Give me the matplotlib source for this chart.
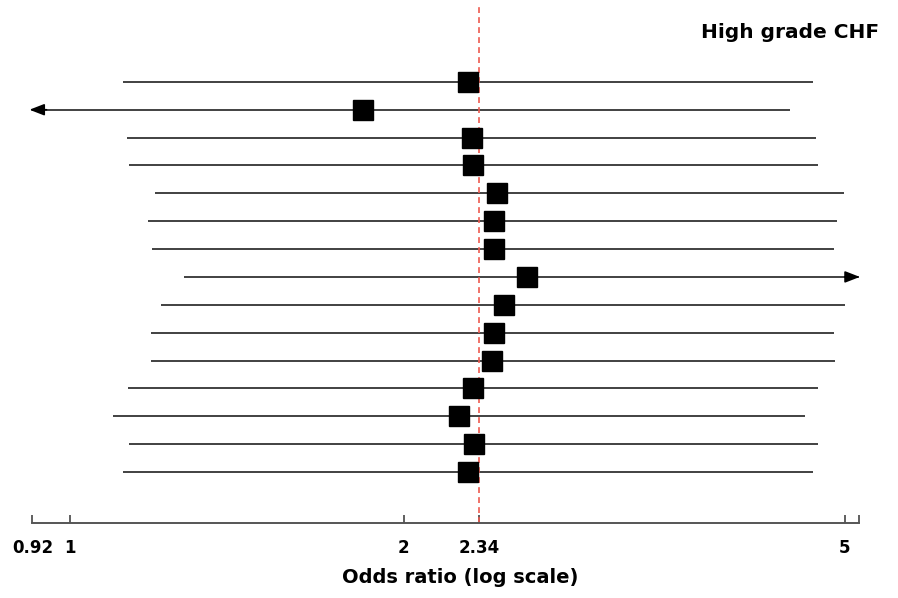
import matplotlib
matplotlib.use("Agg")
import matplotlib.pyplot as plt
import numpy as np

plt.rcParams['font.family'] = ['DejaVu Sans']

# odds ratios, top row first
est = [2.285, 1.837, 2.305, 2.311, 2.428, 2.413, 2.413, 2.586,
       2.464, 2.413, 2.404, 2.308, 2.244, 2.313, 2.285]
lo = [1.117, 0.85, 1.127, 1.131, 1.194, 1.176, 1.186, 1.268,
      1.209, 1.183, 1.183, 1.128, 1.094, 1.131, 1.117]
hi = [4.680, 4.462, 4.713, 4.727, 4.992, 4.917, 4.889, 5.40,
      5.005, 4.889, 4.902, 4.727, 4.604, 4.727, 4.681]

pooled = 2.34
tick_vals = [0.925, 1, 2, 2.34, 5, 5.155]
tick_labels = ['0.92', '1', '2', '2.34', '5', '']
xmin, xmax = 0.925, 5.155

fig = plt.figure(figsize=(8.98, 5.98), dpi=100)
ax = fig.add_axes([0.036, 0.1249, 0.921, 0.775])

rows = np.arange(1, len(est) + 1)
line_col = '#333333'

for r, e, l, h in zip(rows, est, lo, hi):
    left = max(l, xmin)
    right = min(h, xmax)
    ax.plot([left, right], [r, r], color=line_col, lw=1.3, solid_capstyle='butt',
            zorder=2, clip_on=False)
    if l < xmin:
        ax.annotate('', xy=(xmin * 0.994, r), xytext=(xmin * 1.03, r),
                    arrowprops=dict(arrowstyle='-|>,head_length=0.9,head_width=0.35',
                                    color='black', lw=1.2, shrinkA=0, shrinkB=0),
                    annotation_clip=False)
    if h > xmax:
        ax.annotate('', xy=(xmax * 1.001, r), xytext=(xmax * 0.97, r),
                    arrowprops=dict(arrowstyle='-|>,head_length=0.9,head_width=0.35',
                                    color='black', lw=1.2, shrinkA=0, shrinkB=0),
                    annotation_clip=False)

ax.plot(est, rows, 's', color='black', markersize=14, zorder=3, clip_on=False)

# pooled estimate, behind the squares
ax.axvline(pooled, color='#ee5a4f', lw=1.2, linestyle=(0, (3.5, 2.5)), zorder=2.5,
           ymin=0, ymax=1.117, clip_on=False)

ax.set_xscale('log')
ax.set_xlim(xmin, xmax)
ax.set_ylim(16.842, 0.2103)
ax.set_xticks(tick_vals)
ax.set_xticklabels(tick_labels, fontweight='bold', fontsize=12)
ax.xaxis.set_minor_locator(matplotlib.ticker.NullLocator())
ax.tick_params(axis='x', direction='in', length=6, width=1.2, color='#444444',
               pad=11)
ax.set_yticks([])
for s in ['top', 'right', 'left']:
    ax.spines[s].set_visible(False)
ax.spines['bottom'].set_color('#555555')
ax.spines['bottom'].set_linewidth(1.4)

fig.text(0.979, 0.936, 'High grade CHF', ha='right', va='baseline',
         fontsize=14.5, fontweight='bold')
fig.text(0.512, 0.0246, 'Odds ratio (log scale)', ha='center', va='baseline',
         fontsize=14, fontweight='bold')

fig.savefig('out.png', dpi=100)
